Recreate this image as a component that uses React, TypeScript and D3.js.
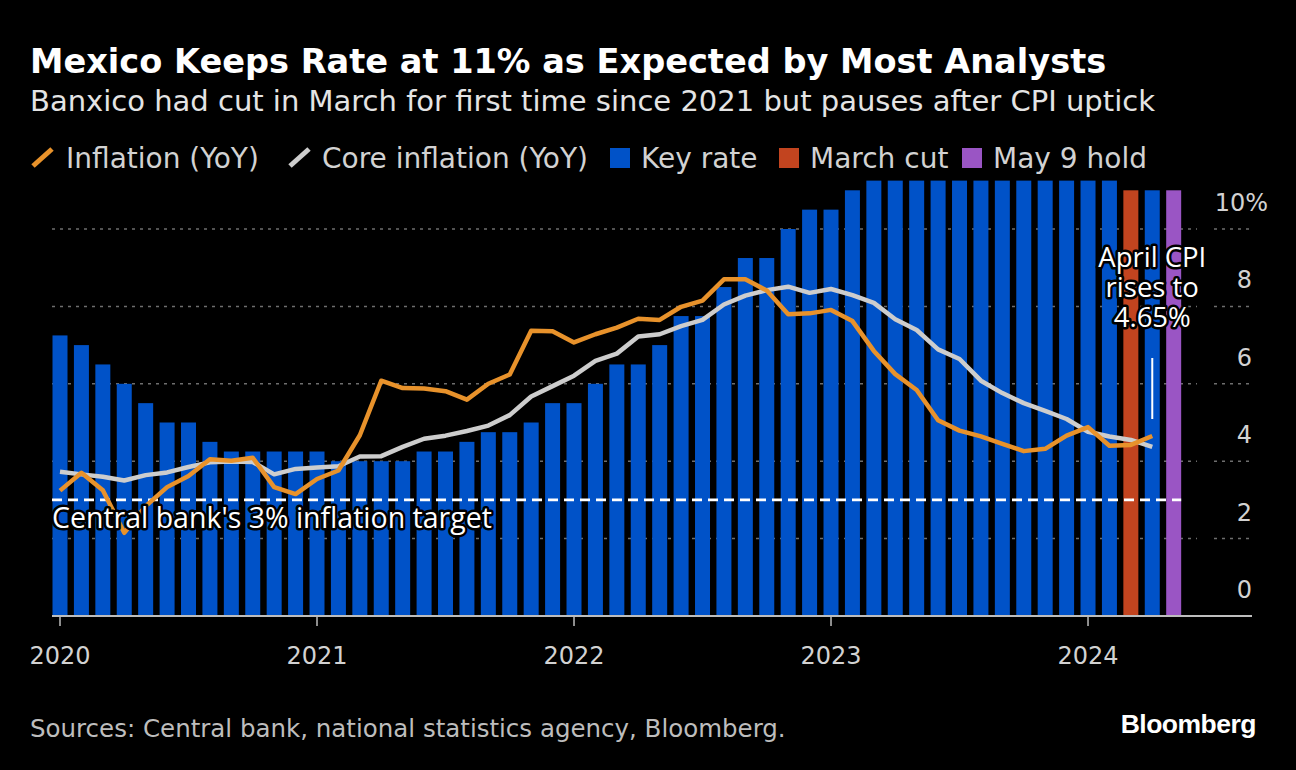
import React from 'react';
import * as d3 from 'd3';

// ---- Data ----
const months: Date[] = d3.timeMonths(new Date(2020, 0, 1), new Date(2024, 5, 1)); // Jan 2020 .. May 2024

const keyRate: number[] = [
  7.25, 7.0, 6.5, 6.0, 5.5, 5.0, 5.0, 4.5, 4.25, 4.25, 4.25, 4.25,
  4.25, 4.0, 4.0, 4.0, 4.0, 4.25, 4.25, 4.5, 4.75, 4.75, 5.0, 5.5,
  5.5, 6.0, 6.5, 6.5, 7.0, 7.75, 7.75, 8.5, 9.25, 9.25, 10.0, 10.5,
  10.5, 11.0, 11.25, 11.25, 11.25, 11.25, 11.25, 11.25, 11.25, 11.25, 11.25, 11.25,
  11.25, 11.25, 11.0, 11.0, 11.0,
];

const inflation: number[] = [
  3.24, 3.7, 3.25, 2.15, 2.84, 3.33, 3.62, 4.05, 4.01, 4.09, 3.33, 3.15,
  3.54, 3.76, 4.67, 6.08, 5.89, 5.88, 5.81, 5.59, 6.0, 6.24, 7.37, 7.36,
  7.07, 7.28, 7.45, 7.68, 7.65, 7.99, 8.15, 8.7, 8.7, 8.41, 7.8, 7.82,
  7.91, 7.62, 6.85, 6.25, 5.84, 5.06, 4.79, 4.64, 4.45, 4.26, 4.32, 4.66,
  4.88, 4.4, 4.42, 4.65,
];

const coreInflation: number[] = [
  3.73, 3.66, 3.6, 3.5, 3.64, 3.71, 3.85, 3.97, 3.99, 3.98, 3.66, 3.8,
  3.84, 3.87, 4.12, 4.13, 4.37, 4.58, 4.66, 4.78, 4.92, 5.19, 5.67, 5.94,
  6.21, 6.59, 6.78, 7.22, 7.28, 7.49, 7.65, 8.05, 8.28, 8.42, 8.51, 8.35,
  8.45, 8.29, 8.09, 7.67, 7.39, 6.89, 6.64, 6.08, 5.76, 5.5, 5.3, 5.09,
  4.76, 4.64, 4.55, 4.37,
];

const marchCutIndex = 50;
const mayHoldIndex = 52;
const inflationTarget = 3;
const yTicks: number[] = [0, 2, 4, 6, 8, 10];
const yearLabels: string[] = ['2020', '2021', '2022', '2023', '2024'];

const legendLabels: string[] = ['Inflation (YoY)', 'Core inflation (YoY)', 'Key rate', 'March cut', 'May 9 hold'];
const annotationLines: string[] = ['April CPI', 'rises to', '4.65%'];

// ---- Styles ----
const COLORS = {
  bg: '#000000',
  bar: '#0052c8',
  cut: '#c2441f',
  hold: '#9a55c4',
  inflation: '#e8922b',
  core: '#cdcdcd',
  grid: '#6e6e6e',
  axis: '#bdbdbd',
  text: '#d2d2d2',
};
const FONT = "'DejaVu Sans', sans-serif";
const LABEL_FONT = "'Open Sans', 'DejaVu Sans', sans-serif";

export default function App() {
  const W = 1296;
  const H = 770;
  const step = 21.417;
  const x0 = 60 - step / 2;
  const x = d3
    .scaleBand<number>()
    .domain(d3.range(months.length))
    .range([x0, x0 + step * months.length])
    .paddingInner(0.3)
    .paddingOuter(0.15);
  const y = d3.scaleLinear().domain([0, 10]).range([616, 229]);
  const cx = (i: number) => (x(i) as number) + x.bandwidth() / 2;

  const lineGen = d3
    .line<number>()
    .x((_, i) => cx(i))
    .y((d) => y(d))
    .curve(d3.curveLinear);

  const plotLeft = 52;
  const plotRight = 1252;
  const gridEnd = 1197;

  const barColor = (i: number) =>
    i === marchCutIndex ? COLORS.cut : i === mayHoldIndex ? COLORS.hold : COLORS.bar;

  const yearIdx = months.map((m, i) => (m.getMonth() === 0 ? i : -1)).filter((i) => i >= 0);

  const legendSwatchX = [30, 287, 610, 779, 962];
  const legendTextX = [66, 322, 641, 810, 993];
  const legendColors = [COLORS.inflation, COLORS.core, COLORS.bar, COLORS.cut, COLORS.hold];

  const annX = cx(51);

  return (
    <svg
      width={W}
      height={H}
      viewBox={`0 0 ${W} ${H}`}
      style={{ position: 'absolute', left: 0, top: 0, background: COLORS.bg, display: 'block' }}
    >
      <rect x={0} y={0} width={W} height={H} fill={COLORS.bg} />

      {/* Title */}
      <text x={30} y={73} fill="#ffffff" fontFamily={FONT} fontWeight="bold" fontSize={33.6}>
        Mexico Keeps Rate at 11% as Expected by Most Analysts
      </text>
      <text x={30} y={111} fill="#e4e4e4" fontFamily={FONT} fontSize={29}>
        Banxico had cut in March for first time since 2021 but pauses after CPI uptick
      </text>

      {/* Legend */}
      {legendLabels.map((lab, k) => (
        <g key={lab}>
          {k < 2 ? (
            <line
              x1={legendSwatchX[k] + 3}
              y1={166}
              x2={legendSwatchX[k] + 22}
              y2={149}
              stroke={legendColors[k]}
              strokeWidth={5}
            />
          ) : (
            <rect x={legendSwatchX[k]} y={148} width={20} height={20} fill={legendColors[k]} />
          )}
          <text x={legendTextX[k]} y={168} fill={COLORS.text} fontFamily={FONT} fontSize={28}>
            {lab}
          </text>
        </g>
      ))}

      {/* Gridlines */}
      {yTicks
        .filter((t) => t > 0)
        .map((t) => (
          <g key={`g${t}`}>
            <line x1={plotLeft} x2={gridEnd} y1={y(t)} y2={y(t)} stroke={COLORS.grid} strokeWidth={1.5} strokeDasharray="3,5" />
            <line x1={1214} x2={1250} y1={y(t)} y2={y(t)} stroke={COLORS.grid} strokeWidth={1.5} strokeDasharray="3,5" />
          </g>
        ))}

      {/* Bars */}
      {keyRate.map((v, i) => (
        <rect key={`b${i}`} x={x(i)} y={y(v)} width={x.bandwidth()} height={y(0) - y(v)} fill={barColor(i)} />
      ))}

      {/* Target line */}
      <line
        x1={plotLeft}
        x2={(x(mayHoldIndex) as number) + x.bandwidth()}
        y1={y(inflationTarget)}
        y2={y(inflationTarget)}
        stroke="#ffffff"
        strokeWidth={2.6}
        strokeDasharray="10,6"
      />

      {/* Lines */}
      <path d={lineGen(coreInflation) || ''} fill="none" stroke={COLORS.core} strokeWidth={4.5} strokeLinejoin="round" />
      <path d={lineGen(inflation) || ''} fill="none" stroke={COLORS.inflation} strokeWidth={4.5} strokeLinejoin="round" />

      {/* Axis */}
      <line x1={plotLeft} x2={plotRight} y1={y(0)} y2={y(0)} stroke={COLORS.axis} strokeWidth={2} />
      {yearIdx.map((i, k) => (
        <g key={`t${i}`}>
          <line x1={cx(i)} x2={cx(i)} y1={y(0)} y2={y(0) + 10} stroke={COLORS.axis} strokeWidth={1.5} />
          <text x={cx(i)} y={664} textAnchor="middle" fill={COLORS.text} fontFamily={FONT} fontSize={24}>
            {yearLabels[k]}
          </text>
        </g>
      ))}

      {/* Y labels */}
      {yTicks.map((t) => (
        <text
          key={`yl${t}`}
          x={t === 10 ? 1268 : 1252}
          y={y(t) - 18}
          textAnchor="end"
          fill={COLORS.text}
          fontFamily={FONT}
          fontSize={24}
        >
          {t === 10 ? `${t}%` : `${t}`}
        </text>
      ))}

      {/* Target label */}
      <text
        x={plotLeft}
        y={528}
        fill="#ffffff"
        fontFamily={LABEL_FONT}
        fontSize={28.5}
        stroke="#000"
        strokeWidth={5}
        strokeLinejoin="round"
        paintOrder="stroke"
      >
        Central bank's 3% inflation target
      </text>

      {/* Annotation */}
      <line x1={annX} x2={annX} y1={358} y2={419} stroke="#ffffff" strokeWidth={2} />
      {annotationLines.map((l, k) => (
        <text
          key={`a${k}`}
          x={annX}
          y={267 + k * 30}
          textAnchor="middle"
          fill="#ffffff"
          fontFamily={LABEL_FONT}
          fontSize={27.5}
          stroke="#000"
          strokeWidth={5}
          strokeLinejoin="round"
          paintOrder="stroke"
        >
          {l}
        </text>
      ))}

      {/* Footer */}
      <text x={30} y={737} fill="#bdbdbd" fontFamily={FONT} fontSize={24.5}>
        Sources: Central bank, national statistics agency, Bloomberg.
      </text>
      <text
        x={1256}
        y={733}
        textAnchor="end"
        fill="#ffffff"
        fontFamily="'Liberation Sans', Arial, sans-serif"
        fontWeight="bold"
        fontSize={26.5}
        letterSpacing={-0.5}
      >
        Bloomberg
      </text>
    </svg>
  );
}
